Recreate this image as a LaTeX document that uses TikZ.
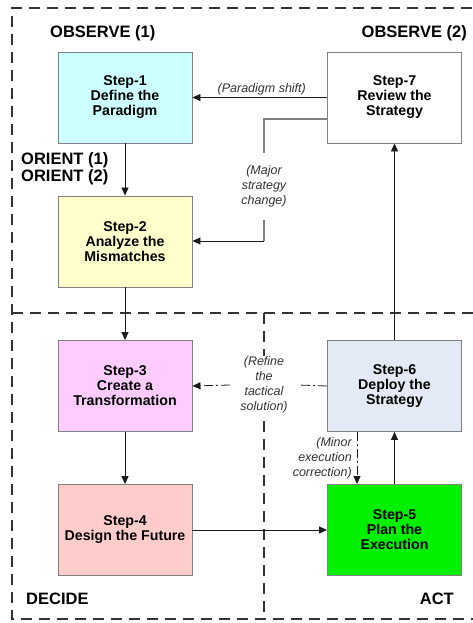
\documentclass[tikz,border=0pt]{standalone}
\usepackage{fontspec}
\setmainfont{Liberation Sans}
\usetikzlibrary{arrows.meta}
\definecolor{c1}{HTML}{CCFFFF}
\definecolor{c2}{HTML}{FFFFCC}
\definecolor{c3}{HTML}{FFCCFF}
\definecolor{c4}{HTML}{FFCCCC}
\definecolor{c5}{HTML}{00F000}
\definecolor{c6}{HTML}{E3E9F5}
\definecolor{c7}{HTML}{FFFFFF}
\definecolor{boxline}{HTML}{808080}
\definecolor{regline}{HTML}{333333}
\definecolor{conn}{HTML}{1A1A1A}
\definecolor{connlight}{HTML}{808080}
\definecolor{lbl}{HTML}{333333}
\tikzset{
  stepbox/.style={draw=boxline, line width=0.9pt, minimum width=134pt, minimum height=91pt,
    align=center, inner sep=0pt, font=\fontsize{14.2}{15}\selectfont\bfseries},
  region/.style={draw=regline, line width=1.4pt, dash pattern=on 11pt off 7pt},
  head/.style={font=\fontsize{16.5}{17}\selectfont\bfseries, inner sep=0pt},
  arr/.style={draw=conn, line width=0.8pt, -{Triangle[length=8pt,width=7pt]}},
  graylink/.style={draw=connlight, line width=1.2pt},
  dashdot/.style={draw=conn, line width=0.8pt, dash pattern=on 9pt off 3pt on 2pt off 3pt},
  note/.style={font=\fontsize{12.5}{15}\selectfont\itshape, text=lbl, inner sep=1pt, align=center}
}
\begin{document}
\begin{tikzpicture}[x=1pt, y=-1pt]
\useasboundingbox (0,0) rectangle (473,623);
\fill[white] (0,0) rectangle (473,623);
% regions
\draw[region] (490,8) -- (12,8) -- (12,619) -- (490,619);
\draw[region] (12,313) -- (490,313);
\draw[region] (264,313) -- (264,619);
% headers
\node[head, anchor=west] (obs1) at (50,33) {OBSERVE (1)};
\node[head, anchor=east] (obs2) at (467,33) {OBSERVE (2)};
\node[head, anchor=west] (or1) at (21,160) {ORIENT (1)};
\node[head, anchor=west] (or2) at (21,177) {ORIENT (2)};
\node[head, anchor=west] (dec) at (26,599) {DECIDE};
\node[head, anchor=east] (act) at (454,599) {ACT};
% boxes
\node[stepbox, fill=c1] (s1) at (125,97.5) {Step-1\\Define the\\Paradigm};
\node[stepbox, fill=c7] (s7) at (394.5,97.5) {Step-7\\Review the\\Strategy};
\node[stepbox, fill=c2] (s2) at (125,241.5) {Step-2\\Analyze the\\Mismatches};
\node[stepbox, fill=c3] (s3) at (125,386) {Step-3\\Create a\\Transformation};
\node[stepbox, fill=c6] (s6) at (394.5,386) {Step-6\\Deploy the\\Strategy};
\node[stepbox, fill=c4] (s4) at (125,530) {Step-4\\Design the Future};
\node[stepbox, fill=c5] (s5) at (394.5,530) {Step-5\\Plan the\\Execution};
% main flow
\draw[arr] (s1) -- (s2);
\draw[arr] (s2) -- (s3);
\draw[arr] (s3) -- (s4);
\draw[arr] (s4) -- (s5);
\draw[arr] (s5) -- (s6);
\draw[arr] (s6) -- (s7);
% paradigm shift
\draw[arr] (s7.west) -- node[note, above=1pt, xshift=2pt] (ps) {(Paradigm shift)} (s1.east);
% major strategy change
\coordinate (m1) at (327,119);
\coordinate (m2) at (264,119);
\coordinate (m3) at (264,153);
\node[note] (maj) at (264,186) {(Major\\strategy\\change)};
\coordinate (m4) at (264,220);
\coordinate (m5) at (264,241);
\draw[graylink] (m1) -- (m2) -- (m3);
\draw[graylink] (m4) -- (m5);
\draw[arr] (m5) -- (s2.east |- m5);
% refine tactical solution
\node[note, fill=white] (ref) at (264,385) {(Refine\\the\\tactical\\solution)};
\coordinate (r1) at (298,385);
\coordinate (r2) at (230,385);
\draw[dashdot] (s6.west) -- (r1);
\draw[dashdot, -{Triangle[length=8pt,width=7pt]}] (r2) -- (s3.east);
% minor execution correction
\coordinate (mc) at (357,0);
\draw[dashdot, -{Triangle[length=8pt,width=7pt]}] (s6.south -| mc) -- (s5.north -| mc);
\node[note, align=right, anchor=east] (minor) at (353,458) {(Minor\\execution\\correction)};
\end{tikzpicture}
\end{document}
